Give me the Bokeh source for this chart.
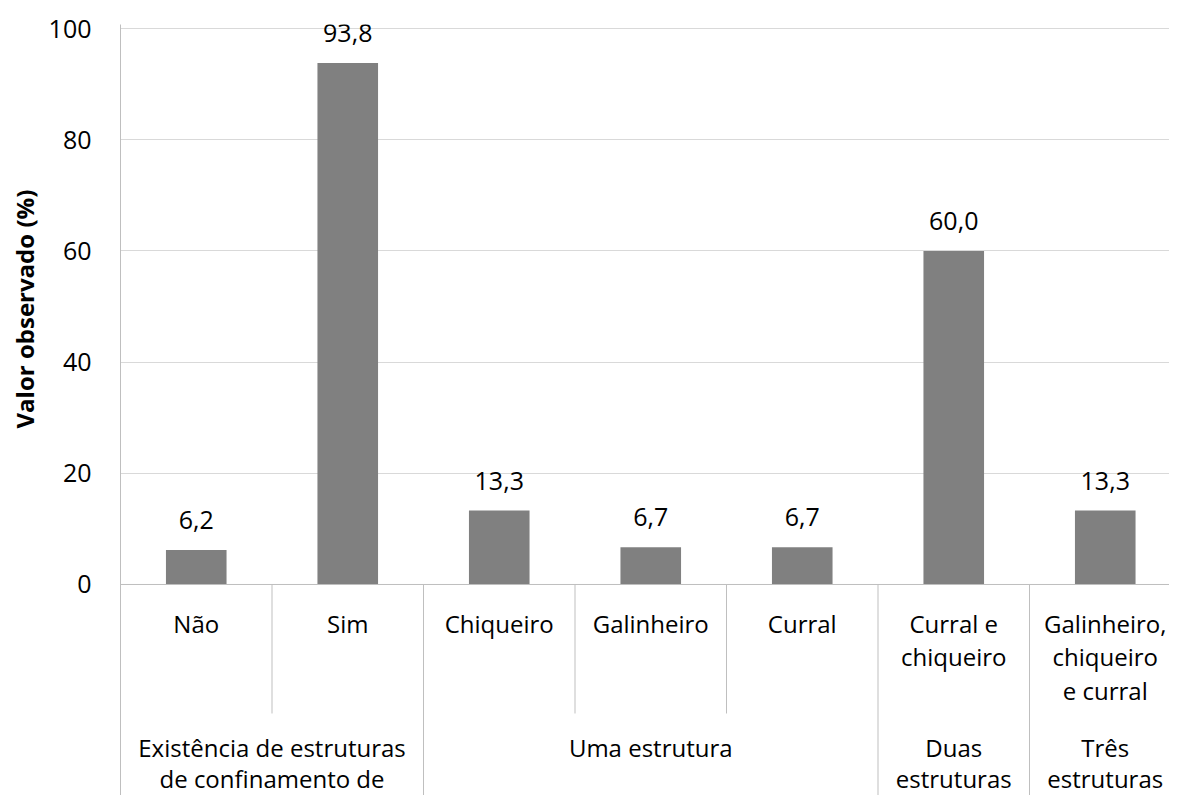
from bokeh.plotting import figure
from bokeh.models import Range1d, FixedTicker, Title, ColumnDataSource
from bokeh.core.properties import value
from bokeh.embed import file_html
from bokeh.resources import INLINE

# ---- data ----
categories = ["Não", "Sim", "Chiqueiro", "Galinheiro", "Curral",
              "Curral e\nchiqueiro", "Galinheiro,\nchiqueiro\ne curral"]
values = [6.2, 93.8, 13.3, 6.7, 6.7, 60.0, 13.3]
groups = ["Existência de estruturas\nde confinamento de", "Uma estrutura",
          "Duas\nestruturas", "Três\nestruturas"]
group_sizes = [2, 3, 1, 1]
y_ticks = [0, 20, 40, 60, 80, 100]
y_title = "Valor observado (%)"

FONT = "Open Sans"
FS = "24px"
GRID = "#d9d9d9"
AXIS = "#bfbfbf"

W, H = 1169, 795
TOP = 24
LEFT = 120
CAT_PX = 151.5
y0, y1 = -37.95, 100.72
x0, x1 = 0, (W - LEFT) / CAT_PX
px_per_unit_y = (H - TOP) / (y1 - y0)

p = figure(width=W, height=H, output_backend="svg", toolbar_location=None,
           x_range=Range1d(x0, x1), y_range=Range1d(y0, y1),
           x_axis_type=None, min_border_left=LEFT, min_border_right=0,
           min_border_top=TOP, min_border_bottom=0)
p.outline_line_color = None
p.background_fill_color = "white"
p.border_fill_color = "white"

# y axis
ya = p.yaxis[0]
ya.ticker = FixedTicker(ticks=y_ticks)
ya.axis_line_color = AXIS
ya.major_tick_line_color = None
ya.minor_tick_line_color = None
ya.major_label_text_font = FONT
ya.major_label_text_font_size = "25px"
ya.major_label_text_color = "black"
ya.major_label_standoff = 23
p.ygrid.grid_line_color = GRID
p.ygrid.ticker = FixedTicker(ticks=y_ticks)

# bars
centers = [i + 0.5 for i in range(len(values))]
src = ColumnDataSource(dict(x=centers, top=values,
                            lab=[f"{v:.1f}".replace(".", ",") for v in values]))
p.vbar(x="x", top="top", width=0.4, source=src, fill_color="#808080", line_color=None)
p.text(x="x", y="top", text="lab", source=src, y_offset=-30,
       text_align="center", text_baseline="middle",
       text_font=value(FONT), text_font_size="25px", text_color="black")

# category baseline
p.segment(x0=[x0], y0=[0], x1=[len(values)], y1=[0], line_color=AXIS, line_width=1)

# separators
bounds = [0]
for s in group_sizes:
    bounds.append(bounds[-1] + s)
short_h = 129 / px_per_unit_y
inner = [i for i in range(1, len(values)) if i not in bounds]
p.segment(x0=inner, y0=[0] * len(inner), x1=inner, y1=[-short_h] * len(inner),
          line_color=AXIS, line_width=1)
p.segment(x0=bounds, y0=[0] * len(bounds), x1=bounds, y1=[y0] * len(bounds),
          line_color=AXIS, line_width=1)

# category labels
LINE = 33.5
tx, ty, tt, toff = [], [], [], []
for c, lab in zip(centers, categories):
    for j, line in enumerate(lab.split("\n")):
        tx.append(c); ty.append(0); tt.append(line); toff.append(39 + j * LINE)
gstart = 0
for g, n in zip(groups, group_sizes):
    c = gstart + n / 2
    for j, line in enumerate(g.split("\n")):
        tx.append(c); ty.append(0); tt.append(line); toff.append(163 + j * 31)
    gstart += n
lsrc = ColumnDataSource(dict(x=tx, y=ty, t=tt, off=toff))
p.text(x="x", y="y", text="t", y_offset="off", source=lsrc,
       text_align="center", text_baseline="middle",
       text_font=value(FONT), text_font_size=FS, text_color="black")

# y title (centred on the 0-100 value span)
title_len = 244
target_mid = TOP + (y1 - 50) * px_per_unit_y
p.add_layout(Title(text=y_title, align="left", offset=(H - target_mid) - title_len / 2,
                   text_font=FONT, text_font_size="24px", text_font_style="bold",
                   text_color="black", standoff=10), "left")

open("out.html", "w").write(file_html(p, INLINE))
